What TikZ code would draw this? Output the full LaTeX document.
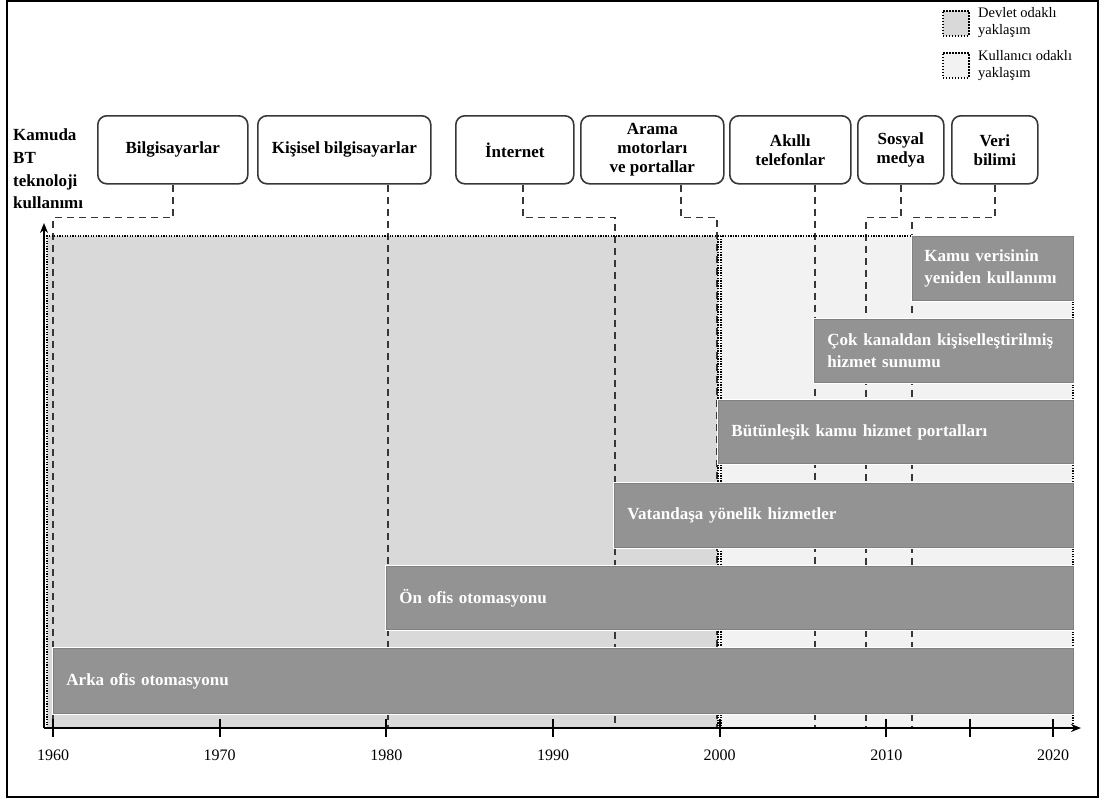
\documentclass[tikz,border=0pt]{standalone}
\usepackage{fontspec}
\setmainfont{Liberation Serif}
\usetikzlibrary{arrows.meta,calc}
\definecolor{barfill}{RGB}{147,147,147}
\definecolor{statefill}{RGB}{217,217,217}
\definecolor{userfill}{RGB}{242,242,242}
\definecolor{linegray}{RGB}{55,55,55}

\begin{document}
\begin{tikzpicture}[x=1pt,y=-1pt,
  techbox/.style={draw=linegray, line width=1.6pt, rounded corners=9pt, fill=white,
    align=center, font=\fontsize{17}{19}\selectfont\bfseries, inner sep=0pt,
    anchor=north west, minimum height=68pt},
  conn/.style={draw=linegray, line width=1.6pt, dash pattern=on 7pt off 5pt},
  bar/.style={preaction={draw=white, line width=3.5pt}, fill=barfill, draw=black!50,
    line width=0.9pt, anchor=north west,
    align=left, text=white, font=\fontsize{17}{22}\selectfont\bfseries,
    inner xsep=13pt, inner ysep=0pt},
  region/.style={draw=black, line width=1.3pt, dash pattern=on 1.3pt off 1.3pt},
  axisline/.style={line width=1.8pt, -{Stealth[length=10pt,width=8pt]}},
  tickmark/.style={line width=1.8pt},
  yearlbl/.style={font=\fontsize{16}{18}\selectfont},
  legbox/.style={draw=black, line width=1.6pt, dash pattern=on 1.5pt off 1.5pt,
    minimum width=26pt, minimum height=25pt, anchor=north west, inner sep=0pt},
  legtext/.style={font=\fontsize{14.5}{17.5}\selectfont, align=left, anchor=north west, inner sep=0pt}
]
\useasboundingbox (0,0) rectangle (1105,800);
% outer frame
\draw[line width=1.5pt] (7,1) rectangle (1098,797);

% legend
\node[legbox, fill=statefill] (legstate) at (942,10) {};
\node[legtext] (legstatetxt) at (978,7) {Devlet odaklı\\yaklaşım};
\node[legbox, fill=userfill] (leguser) at (942,52) {};
\node[legtext] (legusertxt) at (978,50) {Kullanıcı odaklı\\yaklaşım};

% y-axis title
\node[anchor=north west, align=left, inner sep=0pt,
  font=\fontsize{17}{22.6}\selectfont\bfseries] (ytitle) at (13,129)
  {Kamuda\\BT\\teknoloji\\kullanımı};

% state-centred and user-centred periods
\path[fill=statefill] (47,236) rectangle (718,728);
\path[fill=userfill] (721,236) rectangle (1073,728);

% technology boxes
\node[techbox, minimum width=150pt] (bilg) at (97,115) {Bilgisayarlar};
\node[techbox, minimum width=173pt] (kis) at (257,115) {Kişisel bilgisayarlar};
\node[techbox, minimum width=118pt] (int) at (455,115) {İnternet};
\node[techbox, minimum width=143pt] (ara) at (580,115) {Arama\\motorları\\ve portallar};
\node[techbox, minimum width=121pt] (akl) at (729,115) {Akıllı\\telefonlar};
\node[techbox, minimum width=86pt] (sos) at (857,115) {Sosyal\\medya};
\node[techbox, minimum width=86pt] (veri) at (951,115) {Veri\\bilimi};

% drop points on the time axis
\coordinate (d1) at (53,728);
\coordinate (d2) at (388,728);
\coordinate (d3) at (615,728);
\coordinate (d4) at (717,728);
\coordinate (d5) at (815,728);
\coordinate (d6) at (866,728);
\coordinate (d7) at (912,728);

% dashed leaders from each technology to its year
\draw[conn] (bilg.south) -- ++(0,33) -| (d1);
\draw[conn] (kis.south -| d2) -- (d2);
\draw[conn] ([xshift=8pt]int.south) -- ++(0,33) -| (d3);
\draw[conn] ([xshift=28.5pt]ara.south) -- ++(0,33) -| (d4);
\draw[conn] (akl.south -| d5) -- (d5);
\draw[conn] (sos.south) -- ++(0,33) -| (d6);
\draw[conn] (veri.south) -- ++(0,33) -| (d7);

% dotted borders of the two periods
\draw[region] (47,728) -- (47,236) -- (1073,236) -- (1073,728);
\draw[region] (718,236) -- (718,728);
\draw[region] (721,236) -- (721,728);

% application bars
\node[bar, minimum width=1020pt, minimum height=65pt, text width=994pt] (arka) at (53,648) {Arka ofis otomasyonu};
\node[bar, minimum width=687pt, minimum height=63pt, text width=661pt] (on) at (386,566) {Ön ofis otomasyonu};
\node[bar, minimum width=459pt, minimum height=64pt, text width=433pt] (vat) at (614,483) {Vatandaşa yönelik hizmetler};
\node[bar, minimum width=355pt, minimum height=63pt, text width=329pt] (but) at (718,400) {Bütünleşik kamu hizmet portalları};
\node[bar, minimum width=259pt, minimum height=63pt, text width=233pt] (cok) at (814,319) {Çok kanaldan kişiselleştirilmiş\\hizmet sunumu};
\node[bar, minimum width=161pt, minimum height=64pt, text width=145pt, inner xsep=8pt] (kamu) at (912,236) {\hspace*{4pt}Kamu verisinin\\\hspace*{4pt}yeniden kullanımı};

% axes
\coordinate (origin) at (44,728);
\coordinate (ytop) at (44,223);
\coordinate (xend) at (1081,728);
\draw[axisline] (origin) -- (ytop);
\draw[axisline] (origin) -- (xend);

% ticks and year labels
\foreach \yr in {1960,1970,1980,1990,2000,2010,2015,2020}
  \draw[tickmark] ({53+(\yr-1960)*16.6667},719) -- ++(0,18);
\foreach \yr in {1960,1970,1980,1990,2000,2010,2020}
  \node[yearlbl] (y\yr) at ({53+(\yr-1960)*16.6667},755) {\yr};
\end{tikzpicture}
\end{document}
